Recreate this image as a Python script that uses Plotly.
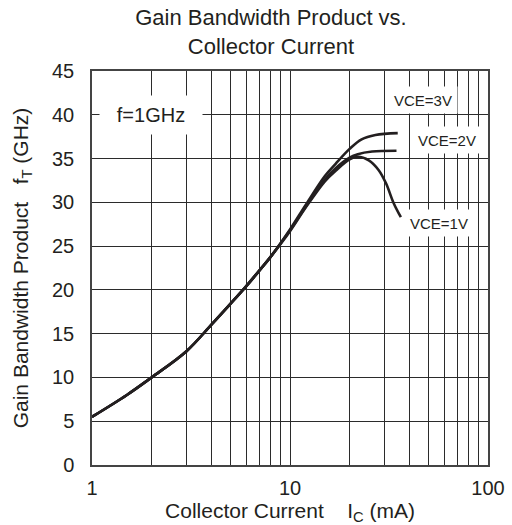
import math
import plotly.graph_objects as go

# Collector current (mA) and gain-bandwidth product fT (GHz)
ic_vce3 = [1, 1.5, 2, 3, 4, 5, 6, 7, 8, 10, 12, 15, 17, 20, 23, 27, 35]
ft_vce3 = [5.5, 8.0, 10.0, 13.0, 16.0, 18.4, 20.4, 22.2, 23.8, 26.9, 29.7, 33.0, 34.4, 36.1, 37.2, 37.7, 37.9]

ic_vce2 = [1, 1.5, 2, 3, 4, 5, 6, 7, 8, 10, 12, 15, 17, 20, 22, 26, 34.5]
ft_vce2 = [5.5, 8.0, 10.0, 13.0, 16.0, 18.4, 20.4, 22.2, 23.8, 26.8, 29.5, 32.6, 33.9, 35.1, 35.5, 35.8, 35.9]

ic_vce1 = [1, 1.5, 2, 3, 4, 5, 6, 7, 8, 10, 12, 15, 17, 20, 22, 25, 28, 30.5, 33.4, 36.3]
ft_vce1 = [5.5, 8.0, 10.0, 13.0, 16.0, 18.4, 20.4, 22.2, 23.8, 26.7, 29.4, 32.4, 33.6, 34.9, 35.2, 34.8, 33.7, 32.2, 29.9, 28.3]

x_ticks = [1, 10, 100]
x_tick_text = ["1", "10", "100"]
x_minor = [m * d for d in (1, 10) for m in range(2, 10)]
y_ticks = [0, 5, 10, 15, 20, 25, 30, 35, 40, 45]

# Curve labels: (text, Ic, fT, box width, box height, font size)
labels = [
    ("f=1GHz", 1.99, 40.0, 100, 36, 20),
    ("VCE=3V", 47.0, 41.7, 66, 24, 15),
    ("VCE=2V", 62.0, 37.1, 68, 24, 15),
    ("VCE=1V", 56.5, 27.6, 68, 24, 15),
]

ink = "#231f20"
grid = "#2b2b2b"
font_family = "Liberation Sans, Arial, sans-serif"

fig = go.Figure()
for xs, ys in ((ic_vce3, ft_vce3), (ic_vce2, ft_vce2), (ic_vce1, ft_vce1)):
    fig.add_trace(go.Scatter(
        x=xs, y=ys, mode="lines",
        line=dict(color=ink, width=2.6, shape="spline", smoothing=1.0),
        showlegend=False, hoverinfo="skip",
    ))

# annotations on a log axis are positioned in log10 units
for text, xv, yv, w, h, fs in labels:
    fig.add_annotation(
        x=math.log10(xv), y=yv, xref="x", yref="y", text=text, showarrow=False,
        font=dict(size=fs, color=ink, family=font_family),
        bgcolor="white", width=w, height=h, align="center",
    )

fig.update_layout(
    width=512, height=525,
    margin=dict(l=92, r=24, t=71, b=60),
    paper_bgcolor="white", plot_bgcolor="white",
    font=dict(family=font_family, color=ink),
    title=dict(
        text="Gain Bandwidth Product vs.<br>Collector Current",
        x=271 / 512, xanchor="center", xref="container",
        y=0.952, yanchor="top", yref="container",
        font=dict(size=22, color=ink, family=font_family),
    ),
)

fig.update_xaxes(
    type="log", range=[0, 2], automargin=False,
    tickvals=x_ticks, ticktext=x_tick_text,
    tickfont=dict(size=20, color=ink),
    ticks="", ticklabelstandoff=4,
    showgrid=True, gridcolor=grid, gridwidth=1,
    minor=dict(tickvals=x_minor, showgrid=True, gridcolor=grid, gridwidth=1, ticks=""),
    showline=True, linecolor="#444444", linewidth=1.5, mirror=True,
    zeroline=False,
    title=dict(
        text="Collector Current\u00a0\u00a0\u00a0\u00a0I<sub>C</sub> (mA)",
        font=dict(size=21, color=ink), standoff=18,
    ),
)

fig.update_yaxes(
    range=[0, 45], automargin=False,
    tickvals=y_ticks,
    tickfont=dict(size=20, color=ink),
    ticks="", ticklabelstandoff=12,
    showgrid=True, gridcolor=grid, gridwidth=1,
    showline=True, linecolor="#444444", linewidth=1.5, mirror=True,
    zeroline=False,
    title=dict(
        text="Gain Bandwidth Product\u00a0\u00a0\u00a0f<sub>T</sub> (GHz)",
        font=dict(size=21, color=ink), standoff=18,
    ),
)

fig.write_html("out.html")
